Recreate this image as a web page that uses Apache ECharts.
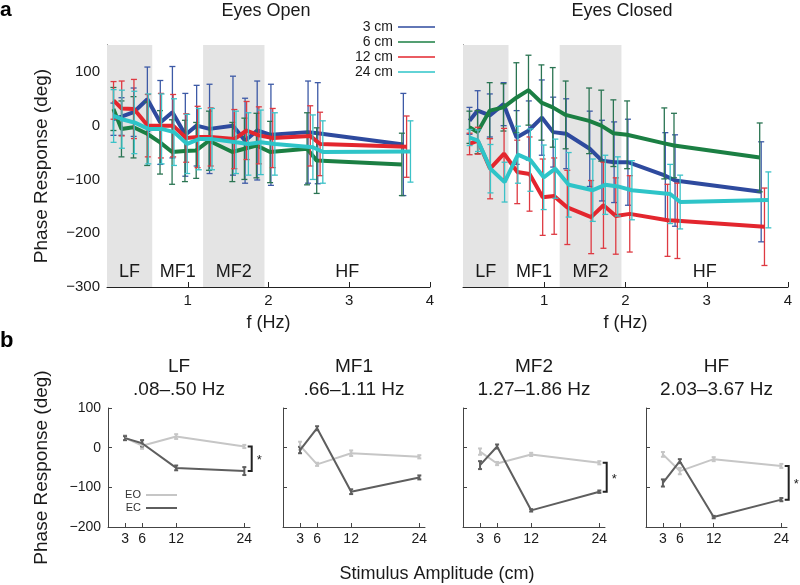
<!DOCTYPE html>
<html>
<head>
<meta charset="utf-8">
<script src="https://cdn.jsdelivr.net/npm/echarts@6/dist/echarts.min.js"></script>
<style>
html,body{margin:0;padding:0;background:#fff}
#chart{width:800px;height:585px}
</style>
</head>
<body>
<div id="chart"></div>
<script>
// stimulus frequencies (Hz)
const freqs = [0.08,0.18,0.33,0.50,0.66,0.81,0.97,1.11,1.27,1.56,1.71,1.86,2.03,2.49,2.61,3.67];
const amps = ['3 cm','6 cm','12 cm','24 cm'];
const ampColors = ['#2e4a9e','#1b7f43','#e3262e','#2ec4c8'];
const errColors = ['#3d5aa6','#2a7452','#de3a42','#3cc2c8'];
const jitter = [1, 0.995, 1.011, 1.024];

// frequency bands
const bandEdges = [0, 0.56, 1.19, 1.95, 4];
const bandNames = ['LF','MF1','MF2','HF'];
const bandShaded = [true,false,true,false];

// eyes open: mean phase and error
const eo3  = [12,17,25,49,6,25,-17,0,-6,0,-28,-9,-17,-12,-14,-35];
const eo6  = [31,-6,-3,-15,-31,-49,-47,-46,-28,-49,-43,-37,-49,-43,-65,-72];
const eo12 = [47,32,31,0,0,0,-23,-21,-21,-25,-9,-18,-23,-19,-34,-39];
const eo24 = [18,12,6,-6,-6,-12,-34,-25,-25,-31,-34,-31,-34,-40,-49,-48];
const eo3Err  = [30,35,45,60,78,85,77,75,83,92,79,92,94,95,94,95];
const eo6Err  = [40,52,57,59,59,60,57,52,55,55,57,60,57,67,61,58];
const eo12Err = [35,51,55,58,60,58,45,57,54,55,54,53,55,56,59,57];
const eo24Err = [49,54,58,65,65,62,55,57,57,58,58,60,58,60,58,57];

// eyes closed
const ec3  = [9,28,19,40,-22,-9,15,-12,-15,-43,-65,-68,-68,-93,-102,-123];
const ec6  = [-3,-12,28,34,52,66,43,34,20,9,0,-14,-17,-33,-37,-59];
const ec12 = [-34,-28,-80,-52,-86,-90,-133,-131,-152,-170,-148,-168,-164,-176,-177,-188];
const ec24 = [-22,-28,-80,-105,-54,-64,-96,-80,-110,-120,-110,-113,-120,-127,-142,-138];
const ec3Err  = [25,37,40,40,50,55,70,65,65,70,75,75,80,80,85,93];
const ec6Err  = [30,40,52,44,65,65,70,74,63,61,66,62,63,66,60,64];
const ec12Err = [20,25,56,47,59,69,71,71,69,68,80,71,71,67,70,72];
const ec24Err = [15,20,45,37,53,58,60,55,60,58,55,55,55,55,50,52];

// panel b: band averages per amplitude
const bAmps = [3,6,12,24];
const bTitles = ['LF','MF1','MF2','HF'];
const bRanges = ['.08\u2013.50 Hz','.66\u20131.11 Hz','1.27\u20131.86 Hz','2.03\u20133.67 Hz'];
const eoBand = [[25,5,28,3],[5,-42,-14,-23],[-10,-40,-17,-38],[-17,-59,-29,-46]];
const ecBand = [[24,11,-51,-59],[-6,49,-111,-75],[-44,3,-158,-111],[-89,-34,-175,-131]];
const eoBandErr = [[6,8,6,4],[10,4,7,4],[8,4,4,4],[6,8,5,5]];
const ecBandErr = [[5,8,6,10],[8,5,6,5],[10,5,3,3],[9,5,3,4]];
const bandSig = [true,false,true,true];

const FONT = '"Liberation Sans", Arial, Helvetica, sans-serif';
const TXT = '#1a1a1a';
const minus = v => v < 0 ? '\u2212' + (-v) : String(v);

function errRender(capHalf, color, width) {
  return function (params, api) {
    const x = api.value(0), y = api.value(1), e = api.value(2);
    const top = api.coord([x, y + e]), bot = api.coord([x, y - e]);
    const style = {stroke: color, lineWidth: width, fill: null};
    return {type: 'group', children: [
      {type: 'line', shape: {x1: top[0], y1: top[1], x2: bot[0], y2: bot[1]}, style},
      {type: 'line', shape: {x1: top[0] - capHalf, y1: top[1], x2: top[0] + capHalf, y2: top[1]}, style},
      {type: 'line', shape: {x1: bot[0] - capHalf, y1: bot[1], x2: bot[0] + capHalf, y2: bot[1]}, style}
    ]};
  };
}

function bracketRender(params, api) {
  const a = api.coord([api.value(0), api.value(1)]);
  const b = api.coord([api.value(0), api.value(2)]);
  const style = {stroke: '#222', lineWidth: 2, fill: null};
  return {type: 'group', children: [
    {type: 'polyline', shape: {points: [[a[0] - 4, a[1]], [a[0], a[1]], [b[0], b[1]], [b[0] - 4, b[1]]]}, style},
    {type: 'text', style: {text: '*', x: a[0] + 5, y: (a[1] + b[1]) / 2 + 2, fill: '#222', font: '13px ' + FONT, textVerticalAlign: 'middle'}}
  ]};
}

const grid = [
  {left: 107, top: 45, width: 323, height: 242},
  {left: 463, top: 45, width: 325, height: 242},
  {left: 108, top: 408, width: 142, height: 119},
  {left: 283, top: 408, width: 142, height: 119},
  {left: 463, top: 408, width: 142, height: 119},
  {left: 646, top: 408, width: 141, height: 119}
];

const xAxis = [], yAxis = [];
[0, 1].forEach(g => {
  xAxis.push({
    gridIndex: g, type: 'value', min: 0, max: 4,
    axisLine: {onZero: false, lineStyle: {color: '#222', width: 1}}, splitLine: {show: false},
    axisTick: {inside: true, length: 5, lineStyle: {color: '#222'}, customValues: [1, 2, 3, 4]},
    axisLabel: {customValues: [1, 2, 3, 4], fontSize: 15, color: TXT, fontFamily: FONT, margin: 6},
    name: 'f (Hz)', nameLocation: 'middle', nameGap: 27,
    nameTextStyle: {fontSize: 18, color: TXT, fontFamily: FONT}
  });
  yAxis.push({
    gridIndex: g, type: 'value', min: -300, max: 150,
    axisLine: {show: true, onZero: false, lineStyle: {color: '#222', width: 1}}, splitLine: {show: false},
    axisTick: {show: true, inside: true, length: 5, lineStyle: {color: '#222'}, customValues: [-300, -200, -100, 0, 100]},
    axisLabel: {show: g === 0, customValues: [-300, -200, -100, 0, 100], formatter: minus,
      fontSize: 15, color: TXT, fontFamily: FONT, margin: 7},
    name: g === 0 ? 'Phase Response (deg)' : '', nameLocation: 'middle', nameGap: 56,
    nameTextStyle: {fontSize: 19, color: TXT, fontFamily: FONT}
  });
});
[2, 3, 4, 5].forEach(g => {
  xAxis.push({
    gridIndex: g, type: 'value', min: 0, max: 25,
    axisLine: {onZero: false, lineStyle: {color: '#444', width: 1}}, splitLine: {show: false},
    axisTick: {inside: true, length: 4, lineStyle: {color: '#444'}, customValues: bAmps},
    axisLabel: {customValues: bAmps, fontSize: 14, color: TXT, fontFamily: FONT, margin: 5}
  });
  yAxis.push({
    gridIndex: g, type: 'value', min: -200, max: 100, interval: 100,
    axisLine: {show: true, onZero: false, lineStyle: {color: '#444', width: 1}}, splitLine: {show: false},
    axisTick: {show: true, inside: true, length: 4, lineStyle: {color: '#444'}},
    axisLabel: {show: g === 2, formatter: minus, fontSize: 14, color: TXT, fontFamily: FONT, margin: 7},
    name: g === 2 ? 'Phase Response (deg)' : '', nameLocation: 'middle', nameGap: 57,
    nameTextStyle: {fontSize: 19, color: TXT, fontFamily: FONT}
  });
});

const series = [];
const panelA = [
  {vals: [eo3, eo6, eo12, eo24], errs: [eo3Err, eo6Err, eo12Err, eo24Err]},
  {vals: [ec3, ec6, ec12, ec24], errs: [ec3Err, ec6Err, ec12Err, ec24Err]}
];
panelA.forEach((p, g) => {
  // shaded bands + labels
  series.push({
    type: 'line', xAxisIndex: g, yAxisIndex: g, data: [], silent: true, z: 0,
    markArea: {
      silent: true,
      label: {show: true, position: 'insideBottom', distance: 6, fontSize: 18, color: TXT, fontFamily: FONT},
      data: bandNames.map((n, i) => [
        {name: n, xAxis: bandEdges[i], itemStyle: {color: bandShaded[i] ? '#e4e4e4' : 'rgba(0,0,0,0)'}},
        {xAxis: bandEdges[i + 1]}
      ])
    }
  });
  amps.forEach((name, k) => {
    series.push({
      name: name + ' err', type: 'custom', xAxisIndex: g, yAxisIndex: g, z: 2 + k * 2,
      encode: {x: 0, y: 1}, renderItem: errRender(3, errColors[k], 1.3), silent: true,
      data: freqs.map((f, i) => [f * jitter[k], p.vals[k][i], p.errs[k][i]])
    });
    series.push({
      name: name, type: 'line', xAxisIndex: g, yAxisIndex: g, z: 3 + k * 2,
      symbol: 'none', color: ampColors[k], lineStyle: {width: 4, color: ampColors[k]}, silent: true,
      data: freqs.map((f, i) => [f * jitter[k], p.vals[k][i]])
    });
  });
});

bTitles.forEach((t, b) => {
  const g = b + 2;
  [['EO', eoBand, eoBandErr, '#c6c6c6'], ['EC', ecBand, ecBandErr, '#5e5e5e']].forEach(([name, vals, errs, col]) => {
    series.push({
      name: name + ' err', type: 'custom', xAxisIndex: g, yAxisIndex: g, z: 3,
      encode: {x: 0, y: 1}, renderItem: errRender(2, col, 2), silent: true,
      data: bAmps.map((a, i) => [a, vals[b][i], errs[b][i]])
    });
    series.push({
      name: name, type: 'line', xAxisIndex: g, yAxisIndex: g, z: 4,
      symbol: 'none', color: col, lineStyle: {width: 2, color: col}, silent: true,
      data: bAmps.map((a, i) => [a, vals[b][i]])
    });
  });
  if (bandSig[b]) {
    series.push({
      type: 'custom', xAxisIndex: g, yAxisIndex: g, z: 5, clip: false, silent: true,
      encode: {x: 0, y: 1}, renderItem: bracketRender,
      data: [[25.3, eoBand[b][3], ecBand[b][3]]]
    });
  }
});

const graphic = [
  {type: 'text', x: 0, y: 10, style: {text: 'a', font: 'bold 21px ' + FONT, fill: '#000', textVerticalAlign: 'middle'}},
  {type: 'text', x: 0, y: 341, style: {text: 'b', font: 'bold 22px ' + FONT, fill: '#000', textVerticalAlign: 'middle'}},
  {type: 'text', x: 266, y: 11, style: {text: 'Eyes Open', font: '18px ' + FONT, fill: TXT, textAlign: 'center', textVerticalAlign: 'middle'}},
  {type: 'text', x: 622, y: 11, style: {text: 'Eyes Closed', font: '18px ' + FONT, fill: TXT, textAlign: 'center', textVerticalAlign: 'middle'}},
  {type: 'text', x: 437, y: 574, style: {text: 'Stimulus Amplitude (cm)', font: '18px ' + FONT, fill: TXT, textAlign: 'center', textVerticalAlign: 'middle'}}
];
bTitles.forEach((t, b) => {
  const cx = grid[b + 2].left + grid[b + 2].width / 2;
  graphic.push({type: 'text', x: cx, y: 367, style: {text: t, font: '19px ' + FONT, fill: TXT, textAlign: 'center', textVerticalAlign: 'middle'}});
  graphic.push({type: 'text', x: cx, y: 390, style: {text: bRanges[b], font: '19px ' + FONT, fill: TXT, textAlign: 'center', textVerticalAlign: 'middle'}});
});

const chart = echarts.init(document.getElementById('chart'), null, {renderer: 'canvas'});
chart.setOption({
  animation: false,
  backgroundColor: '#fff',
  grid, xAxis, yAxis, series, graphic,
  legend: [
    {data: amps, orient: 'vertical', align: 'right', right: 360, top: 15, icon: 'rect',
      itemWidth: 37, itemHeight: 1.5, itemGap: 1, selectedMode: false,
      textStyle: {fontSize: 14, color: TXT, fontFamily: FONT, lineHeight: 14}},
    {data: ['EO', 'EC'], orient: 'vertical', align: 'right', right: 618, top: 484, icon: 'rect',
      itemWidth: 31, itemHeight: 2, itemGap: 1, selectedMode: false,
      textStyle: {fontSize: 11, color: '#333', fontFamily: FONT, lineHeight: 12}}
  ]
});
</script>
</body>
</html>
